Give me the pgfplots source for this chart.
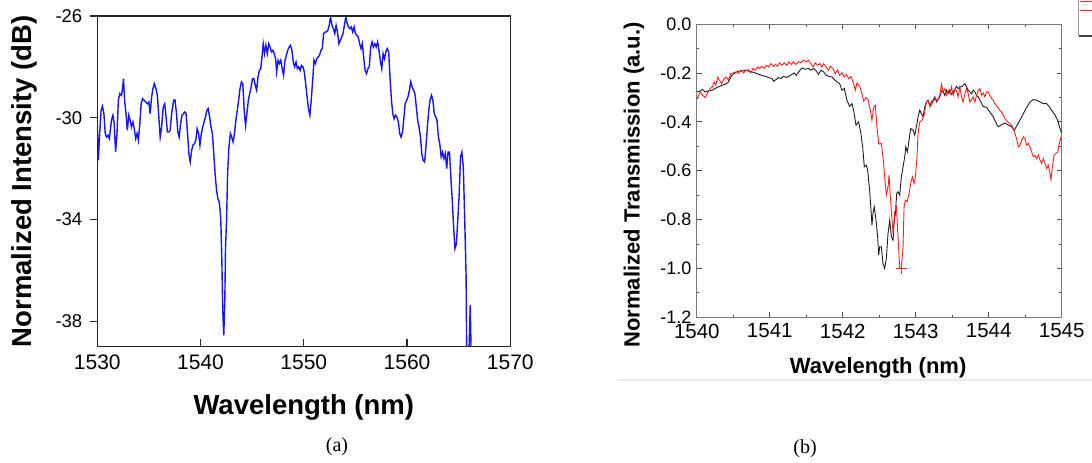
\documentclass[border=0pt]{standalone}
\usepackage{pgfplots}
\pgfplotsset{compat=1.18}
\usepackage{fontspec}
\setmainfont{Liberation Sans}
\newfontfamily\capfont{Liberation Serif}

\definecolor{specblue}{RGB}{20,20,255}
\definecolor{tred}{RGB}{255,30,30}
\definecolor{tblack}{RGB}{30,30,30}
\definecolor{framegray}{RGB}{120,120,120}

\begin{document}
\begin{tikzpicture}
\useasboundingbox (0,0) rectangle (1092pt,463pt);

% (a) spectrum
\begin{axis}[
  at={(97.3pt,116.3pt)}, anchor=south west,
  scale only axis, width=413pt, height=330.7pt,
  xmin=1530, xmax=1570, ymin=-39, ymax=-26,
  xtick={1530,1540,1550,1560,1570},
  xticklabels={1530,1540,1550,1560,1570},
  ytick={-38,-34,-30,-26},
  yticklabels={-38,-34,-30,-26},
  tick pos=left,
  xtick align=inside, ytick align=outside,
  major tick length=7.5pt,
  axis line style={line width=1.3pt, draw=black!85},
  tick style={line width=1.3pt, draw=black!85},
  xticklabel style={font=\fontsize{21}{24}\selectfont, yshift=-5pt},
  yticklabel style={font=\fontsize{18.5}{21}\selectfont, xshift=-4pt},
  xlabel={Wavelength (nm)}, ylabel={Normalized Intensity (dB)},
  label style={font=\fontsize{27.5}{30}\selectfont\bfseries},
  xlabel style={at={(axis description cs:0.5,-0.185)}, anchor=center},
  ylabel style={at={(axis description cs:-0.1775,0.5)}, anchor=center},
  after end axis/.code={
    \draw[line width=1.3pt, black!85] (rel axis cs:0,0) rectangle (rel axis cs:1,1);
  },
]
\addplot[specblue, line width=1.4pt] table {
1530.00 -30.36
1530.10 -31.67
1530.23 -30.62
1530.37 -29.71
1530.50 -29.55
1530.64 -29.84
1530.77 -30.62
1530.90 -30.76
1531.04 -30.69
1531.17 -30.82
1531.37 -30.10
1531.51 -29.90
1531.64 -30.23
1531.77 -31.35
1531.91 -30.62
1532.04 -29.31
1532.18 -29.05
1532.34 -29.12
1532.44 -28.86
1532.54 -28.46
1532.64 -29.31
1532.78 -29.84
1532.91 -30.49
1533.05 -29.90
1533.18 -30.10
1533.31 -30.36
1533.45 -30.17
1533.58 -30.43
1533.72 -30.82
1533.85 -30.62
1533.98 -30.89
1534.12 -30.23
1534.25 -29.45
1534.38 -29.25
1534.52 -29.31
1534.69 -29.38
1534.85 -29.45
1534.99 -29.38
1535.12 -29.84
1535.26 -29.18
1535.39 -28.86
1535.52 -28.66
1535.69 -28.86
1535.82 -29.12
1535.96 -29.97
1536.09 -30.76
1536.23 -30.36
1536.39 -29.58
1536.53 -29.45
1536.66 -29.97
1536.79 -30.56
1536.93 -30.56
1537.06 -30.49
1537.20 -29.84
1537.40 -29.31
1537.53 -29.31
1537.67 -29.84
1537.80 -30.56
1537.93 -30.76
1538.07 -30.23
1538.20 -29.90
1538.33 -29.84
1538.47 -29.77
1538.60 -29.84
1538.74 -30.62
1538.87 -31.41
1539.00 -31.74
1539.14 -31.28
1539.27 -31.08
1539.41 -31.02
1539.54 -30.89
1539.67 -30.43
1539.81 -30.62
1539.94 -31.08
1540.08 -30.62
1540.21 -30.36
1540.34 -30.17
1540.48 -29.97
1540.61 -29.71
1540.74 -29.64
1540.88 -29.97
1541.01 -30.36
1541.15 -30.62
1541.28 -31.41
1541.41 -32.20
1541.55 -32.85
1541.68 -33.18
1541.81 -33.31
1541.95 -33.90
1542.05 -35.34
1542.15 -37.57
1542.25 -38.55
1542.35 -37.18
1542.42 -35.08
1542.52 -34.03
1542.62 -32.20
1542.75 -31.15
1542.89 -30.62
1543.02 -30.76
1543.15 -30.95
1543.29 -30.62
1543.42 -30.10
1543.56 -29.71
1543.69 -29.31
1543.82 -28.86
1543.96 -28.59
1544.09 -28.66
1544.23 -29.71
1544.36 -30.30
1544.49 -29.84
1544.63 -29.31
1544.76 -29.05
1544.90 -28.79
1545.03 -28.46
1545.16 -28.46
1545.30 -28.73
1545.43 -28.92
1545.56 -28.40
1545.70 -28.14
1545.83 -28.07
1545.97 -27.55
1546.07 -27.09
1546.20 -27.48
1546.33 -27.15
1546.47 -27.48
1546.60 -27.09
1546.74 -27.22
1546.87 -27.41
1547.00 -27.35
1547.14 -27.48
1547.27 -27.68
1547.37 -28.20
1547.51 -27.74
1547.64 -27.87
1547.77 -27.74
1547.91 -28.07
1548.04 -28.33
1548.18 -27.74
1548.31 -27.55
1548.44 -27.35
1548.58 -27.22
1548.71 -27.15
1548.85 -27.35
1548.98 -27.81
1549.11 -28.00
1549.25 -27.81
1549.38 -28.07
1549.51 -28.00
1549.65 -28.14
1549.78 -27.94
1549.92 -28.00
1550.05 -28.20
1550.18 -28.66
1550.32 -29.18
1550.45 -29.64
1550.59 -29.90
1550.72 -29.31
1550.85 -28.59
1550.99 -27.74
1551.12 -27.87
1551.26 -27.68
1551.39 -27.61
1551.52 -27.55
1551.66 -27.35
1551.79 -27.28
1551.92 -26.69
1552.06 -26.63
1552.19 -26.63
1552.33 -26.56
1552.46 -26.37
1552.59 -26.04
1552.73 -26.37
1552.86 -26.50
1553.00 -26.69
1553.13 -26.37
1553.26 -26.63
1553.40 -27.09
1553.53 -26.96
1553.67 -26.83
1553.80 -26.69
1553.93 -26.37
1554.07 -26.04
1554.20 -26.30
1554.34 -26.43
1554.47 -26.50
1554.60 -26.43
1554.74 -26.63
1554.87 -26.43
1555.00 -26.69
1555.14 -26.76
1555.27 -26.83
1555.41 -27.09
1555.54 -27.28
1555.67 -27.09
1555.81 -27.68
1555.94 -28.14
1556.08 -28.27
1556.21 -28.07
1556.34 -28.00
1556.48 -27.22
1556.61 -27.02
1556.74 -27.22
1556.88 -27.09
1557.01 -27.22
1557.15 -27.02
1557.28 -27.35
1557.41 -27.74
1557.55 -28.07
1557.68 -27.48
1557.82 -27.68
1557.95 -27.41
1558.08 -27.28
1558.22 -27.41
1558.35 -28.40
1558.49 -29.31
1558.62 -29.84
1558.75 -30.04
1558.89 -29.90
1559.02 -29.97
1559.16 -30.17
1559.29 -30.62
1559.42 -30.76
1559.56 -30.56
1559.69 -30.04
1559.82 -29.45
1559.96 -29.31
1560.09 -29.18
1560.23 -28.92
1560.36 -28.59
1560.49 -28.79
1560.63 -28.92
1560.76 -29.05
1560.90 -29.58
1561.03 -30.10
1561.16 -30.36
1561.30 -30.76
1561.43 -31.41
1561.56 -31.67
1561.70 -31.74
1561.83 -31.15
1561.97 -30.36
1562.10 -29.71
1562.23 -29.31
1562.37 -29.12
1562.50 -29.31
1562.64 -29.84
1562.77 -29.97
1562.90 -30.10
1563.04 -30.76
1563.17 -31.02
1563.31 -31.54
1563.44 -31.35
1563.57 -31.61
1563.71 -31.41
1563.84 -32.00
1563.97 -31.35
1564.11 -31.35
1564.24 -32.33
1564.38 -33.25
1564.51 -34.29
1564.64 -35.14
1564.78 -34.95
1564.91 -34.03
1565.05 -32.98
1565.18 -31.54
1565.31 -31.35
1565.45 -31.93
1565.58 -33.90
1565.72 -36.26
1565.78 -39.50
1565.98 -39.50
1566.12 -37.37
1566.22 -39.50
};
\end{axis}

% (b) transmission
\begin{axis}[
  at={(696.8pt,145.7pt)}, anchor=south west,
  scale only axis, width=364.9pt, height=293pt,
  xmin=1540, xmax=1545, ymin=-1.2, ymax=0,
  xtick={1540,1541,1542,1543,1544,1545},
  xticklabels={1540,1541,1542,1543,1544,1545},
  minor xtick={1540.5,1541.5,1542.5,1543.5,1544.5},
  ytick={-1.2,-1.0,-0.8,-0.6,-0.4,-0.2,0},
  yticklabels={-1.2,-1.0,-0.8,-0.6,-0.4,-0.2,0.0},
  minor ytick={-1.1,-0.9,-0.7,-0.5,-0.3,-0.1},
  tick align=inside, tick pos=both,
  major tick length=5pt, minor tick length=2.5pt,
  axis line style={line width=1.1pt, draw=framegray},
  tick style={line width=1pt, draw=black!70},
  xticklabel style={font=\fontsize{20.5}{23}\selectfont, yshift=-3pt},
  yticklabel style={font=\fontsize{18}{21}\selectfont, xshift=-2pt},
  xlabel={Wavelength (nm)}, ylabel={Normalized Transmission (a.u.)},
  label style={font=\fontsize{22}{25}\selectfont\bfseries},
  xlabel style={at={(axis description cs:0.497,-0.173)}, anchor=center},
  ylabel style={at={(axis description cs:-0.172,0.4515)}, anchor=center},
]
\addplot[tblack, line width=0.9pt] table {
1540.000 -0.277
1540.046 -0.273
1540.082 -0.267
1540.114 -0.277
1540.160 -0.273
1540.206 -0.270
1540.251 -0.263
1540.297 -0.256
1540.343 -0.250
1540.389 -0.246
1540.434 -0.236
1540.480 -0.209
1540.526 -0.199
1540.572 -0.191
1540.617 -0.192
1540.663 -0.188
1540.709 -0.192
1540.754 -0.195
1540.800 -0.199
1540.846 -0.205
1540.892 -0.209
1540.937 -0.213
1540.983 -0.218
1541.029 -0.222
1541.052 -0.233
1541.088 -0.226
1541.120 -0.218
1541.152 -0.222
1541.189 -0.213
1541.225 -0.218
1541.262 -0.213
1541.303 -0.205
1541.335 -0.199
1541.362 -0.209
1541.395 -0.195
1541.440 -0.179
1541.486 -0.184
1541.532 -0.181
1541.564 -0.188
1541.600 -0.181
1541.637 -0.191
1541.669 -0.205
1541.701 -0.188
1541.737 -0.195
1541.774 -0.209
1541.806 -0.213
1541.852 -0.216
1541.884 -0.226
1541.920 -0.236
1541.957 -0.243
1541.989 -0.270
1542.021 -0.263
1542.057 -0.311
1542.094 -0.336
1542.126 -0.325
1542.149 -0.352
1542.181 -0.413
1542.217 -0.400
1542.249 -0.447
1542.277 -0.516
1542.295 -0.584
1542.323 -0.577
1542.341 -0.598
1542.368 -0.679
1542.387 -0.761
1542.400 -0.823
1542.414 -0.775
1542.432 -0.748
1542.451 -0.789
1542.478 -0.870
1542.492 -0.945
1542.506 -0.911
1542.529 -0.911
1542.551 -0.980
1542.574 -1.000
1542.597 -0.959
1542.620 -0.857
1542.643 -0.802
1542.666 -0.870
1542.689 -0.884
1542.703 -0.816
1542.721 -0.775
1542.739 -0.693
1542.757 -0.686
1542.780 -0.700
1542.803 -0.625
1542.826 -0.584
1542.849 -0.543
1542.863 -0.502
1542.886 -0.523
1542.908 -0.475
1542.931 -0.427
1542.963 -0.434
1542.986 -0.454
1543.009 -0.420
1543.032 -0.379
1543.055 -0.352
1543.078 -0.366
1543.101 -0.379
1543.124 -0.338
1543.146 -0.318
1543.169 -0.311
1543.192 -0.332
1543.215 -0.318
1543.238 -0.311
1543.261 -0.297
1543.284 -0.318
1543.307 -0.308
1543.330 -0.297
1543.352 -0.273
1543.375 -0.277
1543.398 -0.291
1543.421 -0.270
1543.444 -0.284
1543.467 -0.270
1543.490 -0.287
1543.535 -0.267
1543.558 -0.254
1543.581 -0.263
1543.604 -0.256
1543.627 -0.256
1543.650 -0.250
1543.673 -0.243
1543.696 -0.256
1543.719 -0.270
1543.741 -0.277
1543.764 -0.284
1543.787 -0.270
1543.810 -0.277
1543.833 -0.291
1543.856 -0.297
1543.892 -0.318
1543.924 -0.336
1543.970 -0.341
1544.016 -0.359
1544.062 -0.379
1544.094 -0.400
1544.130 -0.420
1544.167 -0.413
1544.222 -0.404
1544.268 -0.413
1544.314 -0.420
1544.350 -0.434
1544.382 -0.417
1544.428 -0.393
1544.474 -0.366
1544.519 -0.341
1544.565 -0.318
1544.611 -0.308
1544.657 -0.311
1544.703 -0.318
1544.748 -0.325
1544.794 -0.325
1544.826 -0.336
1544.863 -0.352
1544.908 -0.372
1544.945 -0.393
1544.977 -0.427
1545.000 -0.447
};
\addplot[tred, line width=0.9pt] table {
1540.000 -0.308
1540.023 -0.291
1540.046 -0.277
1540.082 -0.291
1540.114 -0.300
1540.146 -0.281
1540.183 -0.263
1540.215 -0.256
1540.238 -0.236
1540.261 -0.250
1540.288 -0.216
1540.311 -0.229
1540.343 -0.243
1540.366 -0.226
1540.402 -0.216
1540.434 -0.229
1540.466 -0.202
1540.503 -0.199
1540.535 -0.195
1540.572 -0.202
1540.604 -0.188
1540.640 -0.199
1540.677 -0.188
1540.709 -0.186
1540.741 -0.199
1540.768 -0.181
1540.800 -0.188
1540.832 -0.175
1540.860 -0.181
1540.892 -0.172
1540.924 -0.181
1540.951 -0.168
1540.983 -0.175
1541.015 -0.161
1541.052 -0.172
1541.079 -0.164
1541.107 -0.172
1541.134 -0.158
1541.166 -0.168
1541.198 -0.158
1541.235 -0.168
1541.262 -0.154
1541.294 -0.165
1541.326 -0.154
1541.362 -0.164
1541.395 -0.153
1541.427 -0.158
1541.463 -0.147
1541.500 -0.154
1541.532 -0.147
1541.564 -0.161
1541.591 -0.175
1541.624 -0.158
1541.656 -0.168
1541.683 -0.161
1541.715 -0.175
1541.738 -0.161
1541.774 -0.177
1541.806 -0.188
1541.829 -0.172
1541.865 -0.181
1541.897 -0.202
1541.929 -0.188
1541.957 -0.209
1541.989 -0.199
1542.021 -0.216
1542.048 -0.205
1542.080 -0.222
1542.112 -0.213
1542.149 -0.243
1542.172 -0.270
1542.195 -0.240
1542.231 -0.254
1542.263 -0.284
1542.286 -0.314
1542.318 -0.300
1542.346 -0.308
1542.378 -0.352
1542.400 -0.393
1542.423 -0.341
1542.446 -0.332
1542.469 -0.420
1542.492 -0.488
1542.506 -0.491
1542.529 -0.488
1542.551 -0.543
1542.574 -0.625
1542.597 -0.700
1542.620 -0.666
1542.634 -0.618
1542.652 -0.707
1542.675 -0.802
1542.689 -0.857
1542.712 -0.768
1542.735 -0.748
1542.757 -0.870
1542.780 -1.000
1542.803 -1.000
1542.826 -0.911
1542.840 -0.748
1542.858 -0.720
1542.881 -0.727
1542.904 -0.700
1542.931 -0.652
1542.954 -0.625
1542.977 -0.652
1542.995 -0.625
1543.014 -0.557
1543.032 -0.447
1543.055 -0.400
1543.087 -0.393
1543.114 -0.372
1543.146 -0.318
1543.169 -0.311
1543.192 -0.338
1543.215 -0.332
1543.238 -0.314
1543.270 -0.304
1543.297 -0.311
1543.330 -0.291
1543.352 -0.246
1543.375 -0.277
1543.398 -0.263
1543.421 -0.291
1543.444 -0.270
1543.467 -0.284
1543.490 -0.256
1543.513 -0.291
1543.535 -0.270
1543.558 -0.270
1543.581 -0.297
1543.604 -0.256
1543.627 -0.297
1543.650 -0.318
1543.673 -0.284
1543.696 -0.263
1543.719 -0.284
1543.741 -0.318
1543.764 -0.311
1543.787 -0.297
1543.810 -0.318
1543.833 -0.291
1543.856 -0.270
1543.879 -0.263
1543.902 -0.291
1543.924 -0.281
1543.947 -0.297
1543.970 -0.277
1543.993 -0.277
1544.016 -0.291
1544.039 -0.304
1544.062 -0.311
1544.085 -0.325
1544.121 -0.338
1544.153 -0.352
1544.185 -0.363
1544.222 -0.386
1544.259 -0.400
1544.291 -0.407
1544.323 -0.417
1544.359 -0.447
1544.382 -0.468
1544.405 -0.502
1544.428 -0.495
1544.451 -0.475
1544.474 -0.461
1544.497 -0.468
1544.519 -0.495
1544.542 -0.488
1544.565 -0.502
1544.588 -0.523
1544.611 -0.543
1544.634 -0.536
1544.657 -0.550
1544.680 -0.536
1544.703 -0.557
1544.725 -0.570
1544.748 -0.550
1544.771 -0.570
1544.794 -0.591
1544.817 -0.577
1544.840 -0.611
1544.854 -0.636
1544.872 -0.584
1544.895 -0.536
1544.918 -0.529
1544.945 -0.523
1544.968 -0.488
1544.991 -0.461
};
\addplot[tred, only marks, mark=+, mark size=5.5pt, mark options={line width=0.9pt}]
  coordinates {(1542.80,-1.0)};
\end{axis}

% captions, page rule and the cut-off legend box at the top right
\node[font=\capfont\fontsize{20}{22}\selectfont] at (337pt,16pt) {(a)};
\node[font=\capfont\fontsize{20}{22}\selectfont] at (805pt,14pt) {(b)};
\draw[line width=2.5pt, black!8] (617pt,83pt) -- (1092pt,83pt);
\draw[line width=1.5pt, black!40] (1078.5pt,463pt) -- (1078.5pt,427pt);
\draw[line width=1.2pt, black!75] (1078.5pt,427pt) -- (1092pt,427pt);
\draw[line width=1pt, tred] (1080pt,461.7pt) -- (1092pt,461.7pt);
\draw[line width=1pt, tred] (1080pt,452.7pt) -- (1092pt,452.7pt);
\end{tikzpicture}
\end{document}
